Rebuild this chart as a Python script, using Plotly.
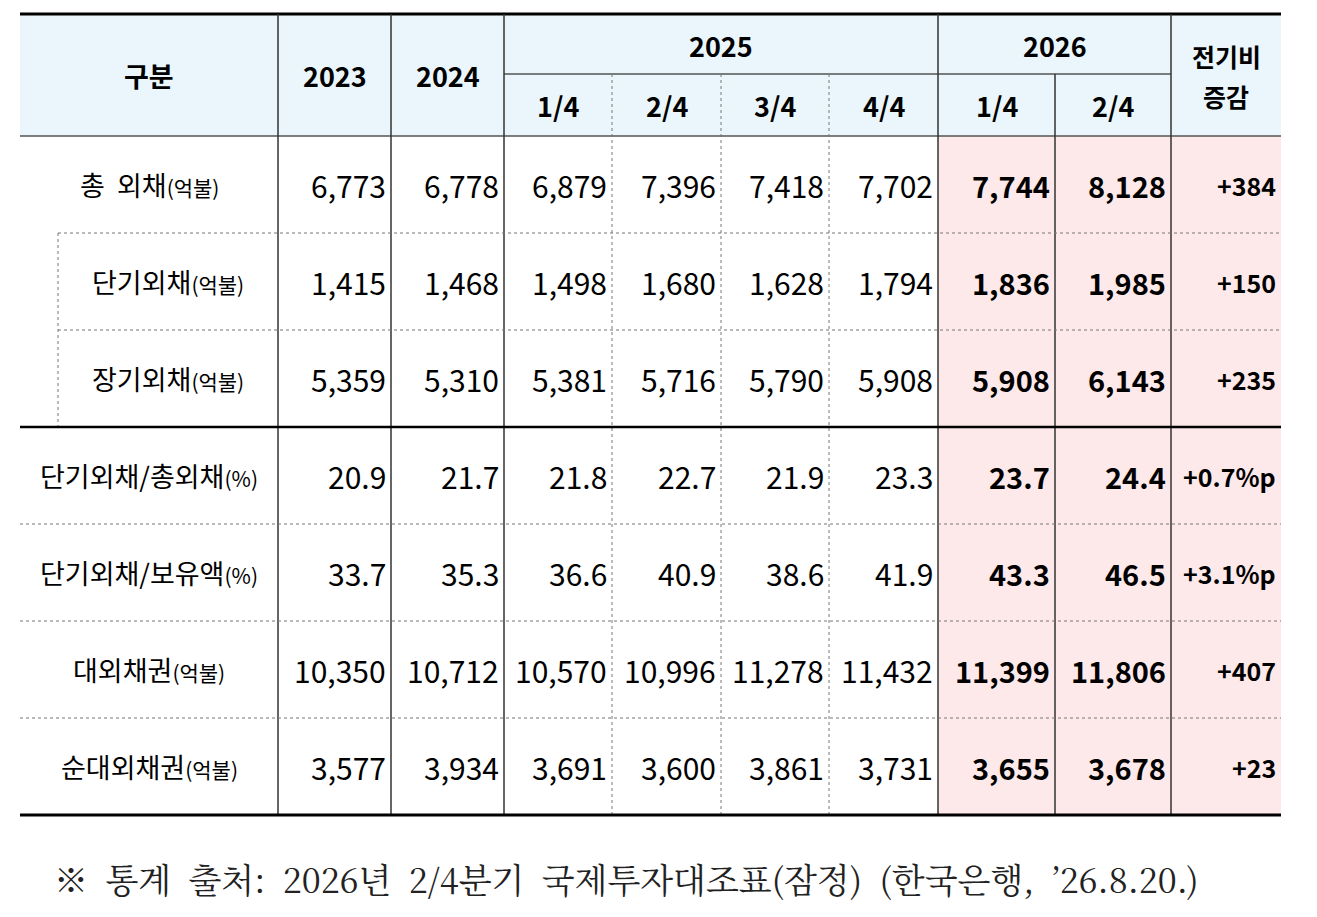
import plotly.graph_objects as go

row_labels = ["총  외채", "단기외채", "장기외채", "단기외채/총외채", "단기외채/보유액", "대외채권", "순대외채권"]
row_units = ["(억불)", "(억불)", "(억불)", "(%)", "(%)", "(억불)", "(억불)"]
y2023 = ["6,773", "1,415", "5,359", "20.9", "33.7", "10,350", "3,577"]
y2024 = ["6,778", "1,468", "5,310", "21.7", "35.3", "10,712", "3,934"]
q25_1 = ["6,879", "1,498", "5,381", "21.8", "36.6", "10,570", "3,691"]
q25_2 = ["7,396", "1,680", "5,716", "22.7", "40.9", "10,996", "3,600"]
q25_3 = ["7,418", "1,628", "5,790", "21.9", "38.6", "11,278", "3,861"]
q25_4 = ["7,702", "1,794", "5,908", "23.3", "41.9", "11,432", "3,731"]
q26_1 = ["7,744", "1,836", "5,908", "23.7", "43.3", "11,399", "3,655"]
q26_2 = ["8,128", "1,985", "6,143", "24.4", "46.5", "11,806", "3,678"]
change = ["+384", "+150", "+235", "+0.7%p", "+3.1%p", "+407", "+23"]
footnote = "※  통계  출처:  2026년  2/4분기  국제투자대조표(잠정)  (한국은행,  ’26.8.20.)"

W, H = 1317, 917
OFF = 8
xs = [20, 278, 391, 504, 612, 721, 829, 938, 1055, 1171, 1281]
ytop, ymid, yhead = 14, 74, 136
rh = 97
ys = [yhead + i * rh for i in range(8)]
FONT = "Noto Sans CJK KR"

fig = go.Figure()
shapes, ann = [], []

def rect(x0, y0, x1, y1, color):
    shapes.append(dict(type="rect", x0=x0, x1=x1, y0=y0, y1=y1, fillcolor=color,
                       line=dict(width=0), layer="below"))

def line(x0, y0, x1, y1, w=1, color="#333", dash="solid"):
    shapes.append(dict(type="line", x0=x0, x1=x1, y0=y0, y1=y1,
                       line=dict(width=w, color=color, dash=dash)))

def text(x, y, s, size=26, bold=False, anchor="center", color="black"):
    ann.append(dict(x=x, y=y, text=f"<b>{s}</b>" if bold else s, showarrow=False,
                    xanchor=anchor, yanchor="middle", font=dict(family=FONT, size=size, color=color)))

rect(20, ytop, 1281, yhead, "#EAF6FB")
rect(938, yhead, 1281, ys[-1], "#FDE9E9")

text((xs[0] + xs[1]) / 2, 75, "구분", 27, True)
text((xs[1] + xs[2]) / 2, 75, "2023", 27, True)
text((xs[2] + xs[3]) / 2, 75, "2024", 27, True)
text((xs[3] + xs[7]) / 2, 45, "2025", 27, True)
text((xs[7] + xs[9]) / 2, 45, "2026", 27, True)
for i, q in enumerate(["1/4", "2/4", "3/4", "4/4", "1/4", "2/4"]):
    text((xs[3 + i] + xs[4 + i]) / 2, 105, q, 27, True)
text((xs[9] + xs[10]) / 2, 56, "전기비", 25, True)
text((xs[9] + xs[10]) / 2, 96, "증감", 25, True)

cols = [y2023, y2024, q25_1, q25_2, q25_3, q25_4, q26_1, q26_2, change]
for r in range(7):
    yc = (ys[r] + ys[r + 1]) / 2
    cx = (58 + 278) / 2 if r in (1, 2) else (xs[0] + xs[1]) / 2
    text(cx, yc, f"{row_labels[r]}<span style='font-size:21px'>{row_units[r]}</span>", 27)
    for c, col in enumerate(cols):
        if c == 8:
            text(xs[10] - 3, yc, col[r], 25, True, "right")
        elif c >= 6:
            text(xs[c + 2] - 3, yc, col[r], 29, True, "right")
        else:
            text(xs[c + 2] - 3, yc, col[r], 30, False, "right")

line(20, ytop, 1281, ytop, 3, "black")
line(20, yhead, 1281, yhead, 1.5, "#555")
line(xs[3], ymid, xs[9], ymid, 1.5, "#555")
for x in [xs[1], xs[2], xs[3], xs[7], xs[9]]:
    line(x, ytop, x, ys[-1], 1.5, "#333")
line(xs[8], ymid, xs[8], ys[-1], 1.5, "#333")
for x in [xs[4], xs[5], xs[6]]:
    line(x, ymid, x, ys[-1], 1, "#777", "dot")
line(58, ys[1], 58, ys[3], 1, "#777", "dot")
line(58, ys[1], 1281, ys[1], 1, "#777", "dot")
line(58, ys[2], 1281, ys[2], 1, "#777", "dot")
line(20, ys[3], 1281, ys[3], 2.5, "black")
for r in [4, 5, 6]:
    line(20, ys[r], 1281, ys[r], 1, "#777", "dot")
line(20, ys[7], 1281, ys[7], 3, "black")

ann.append(dict(x=52, y=878, text=footnote, showarrow=False, xanchor="left", yanchor="middle",
                font=dict(family="Noto Serif CJK KR, Noto Sans CJK KR", size=34, color="#222")))

fig.update_layout(width=W, height=H, margin=dict(l=0, r=0, t=0, b=0),
                  plot_bgcolor="white", paper_bgcolor="white",
                  xaxis=dict(range=[OFF, W + OFF], visible=False, fixedrange=True),
                  yaxis=dict(range=[H + OFF, OFF], visible=False, fixedrange=True),
                  shapes=shapes, annotations=ann, showlegend=False)
fig.write_html("out.html", config={"displayModeBar": False})
